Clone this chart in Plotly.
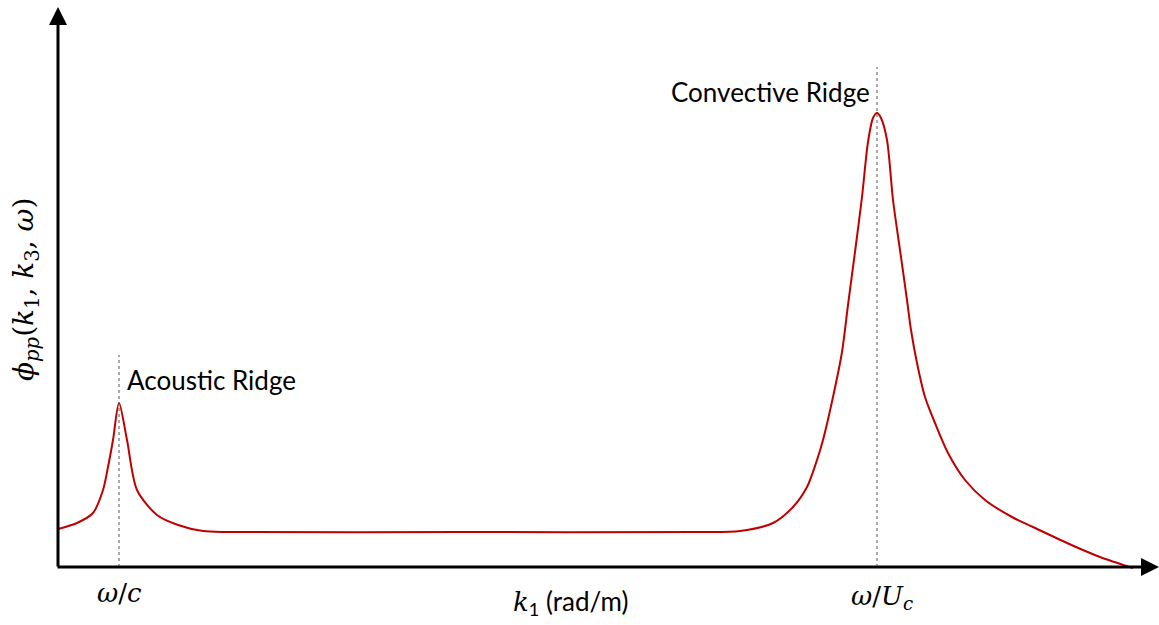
import plotly.graph_objects as go

# Schematic wavenumber spectrum (arbitrary units)
k1 = [0, 19, 35, 45, 50, 55, 61, 69, 79, 99, 120, 145, 170,
      400, 642, 682, 715, 735, 749, 759, 765, 775, 784, 790, 797, 804, 810, 815, 819,
      823, 829, 835, 842, 849, 853, 859, 867, 877, 890, 907, 927, 954, 975, 1009, 1042, 1075]
phi = [38, 44, 54, 77, 100, 127, 164, 127, 77, 52, 42, 36, 35,
       35, 35, 36, 44, 60, 80, 107, 127, 170, 215, 262, 315, 370, 425, 449, 454,
       449, 427, 367, 317, 267, 237, 204, 170, 144, 114, 87, 67, 50, 40, 24, 10, -1]

acoustic_k = 61
convective_k = 819
marker_top = [212, 500]

fig = go.Figure()
fig.add_trace(go.Scatter(x=k1, y=phi, mode="lines",
                         line=dict(color="#C00000", width=2, shape="spline", smoothing=0.8),
                         hoverinfo="skip", cliponaxis=False))
fig.add_trace(go.Scatter(x=[acoustic_k, acoustic_k], y=[0, marker_top[0]], mode="lines",
                         line=dict(color="#555555", width=1, dash="dot"), hoverinfo="skip"))
fig.add_trace(go.Scatter(x=[convective_k, convective_k], y=[0, marker_top[1]], mode="lines",
                         line=dict(color="#555555", width=1, dash="dot"), hoverinfo="skip"))

annos = []
# axes with arrows
annos.append(dict(x=0, y=560, ax=0, ay=-1, xref="x", yref="y", axref="x", ayref="y", text="",
                  showarrow=True, arrowhead=2, arrowsize=1.2, arrowwidth=3, arrowcolor="black", standoff=0))
annos.append(dict(x=1101, y=0, ax=-2, ay=0, xref="x", yref="y", axref="x", ayref="y", text="",
                  showarrow=True, arrowhead=2, arrowsize=1.2, arrowwidth=3, arrowcolor="black", standoff=0))

label_font = dict(family="Lato, Open Sans, sans-serif", size=26, color="black")
math_font = dict(family="DejaVu Serif, Liberation Serif, serif", size=26, color="black")
annos.append(dict(x=acoustic_k + 6, y=187, xref="x", yref="y", text="Acoustic Ridge", showarrow=False,
                  xanchor="left", yanchor="middle", font=label_font))
annos.append(dict(x=convective_k - 5, y=475, xref="x", yref="y", text="Convective Ridge", showarrow=False,
                  xanchor="right", yanchor="middle", font=label_font))
annos.append(dict(x=acoustic_k, y=-0.027, xref="x", yref="paper", text="<i>ω</i>/<i>c</i>", showarrow=False,
                  xanchor="center", yanchor="middle", font=math_font))
annos.append(dict(x=convective_k + 5, y=-0.036, xref="x", yref="paper", text="<i>ω</i>/<i>U<sub>c</sub></i>",
                  showarrow=False, xanchor="center", yanchor="middle", font=math_font))
annos.append(dict(x=512, y=-0.045, xref="x", yref="paper",
                  text="<span style='font-family:DejaVu Serif;font-size:26px'><i>k</i></span><sub>1</sub> (rad/m)",
                  showarrow=False, xanchor="center", yanchor="middle",
                  font=dict(family="Lato, sans-serif", size=26, color="black")))
annos.append(dict(x=-0.0225, y=277, xref="paper", yref="y",
                  text="<i>ϕ<sub>pp</sub></i>(<i>k</i><sub>1</sub>, <i>k</i><sub>3</sub>, <i>ω</i>)",
                  showarrow=False, textangle=-90, xanchor="center", yanchor="middle",
                  font=dict(family="DejaVu Serif, serif", size=28, color="black")))

fig.update_layout(
    width=1159, height=625,
    margin=dict(l=50, r=0, t=0, b=48),
    plot_bgcolor="white", paper_bgcolor="white",
    showlegend=False,
    xaxis=dict(range=[-8, 1101], visible=False, fixedrange=True),
    yaxis=dict(range=[-10, 567], visible=False, fixedrange=True),
    annotations=annos,
)

fig.write_html("out.html", config={"displayModeBar": False})
